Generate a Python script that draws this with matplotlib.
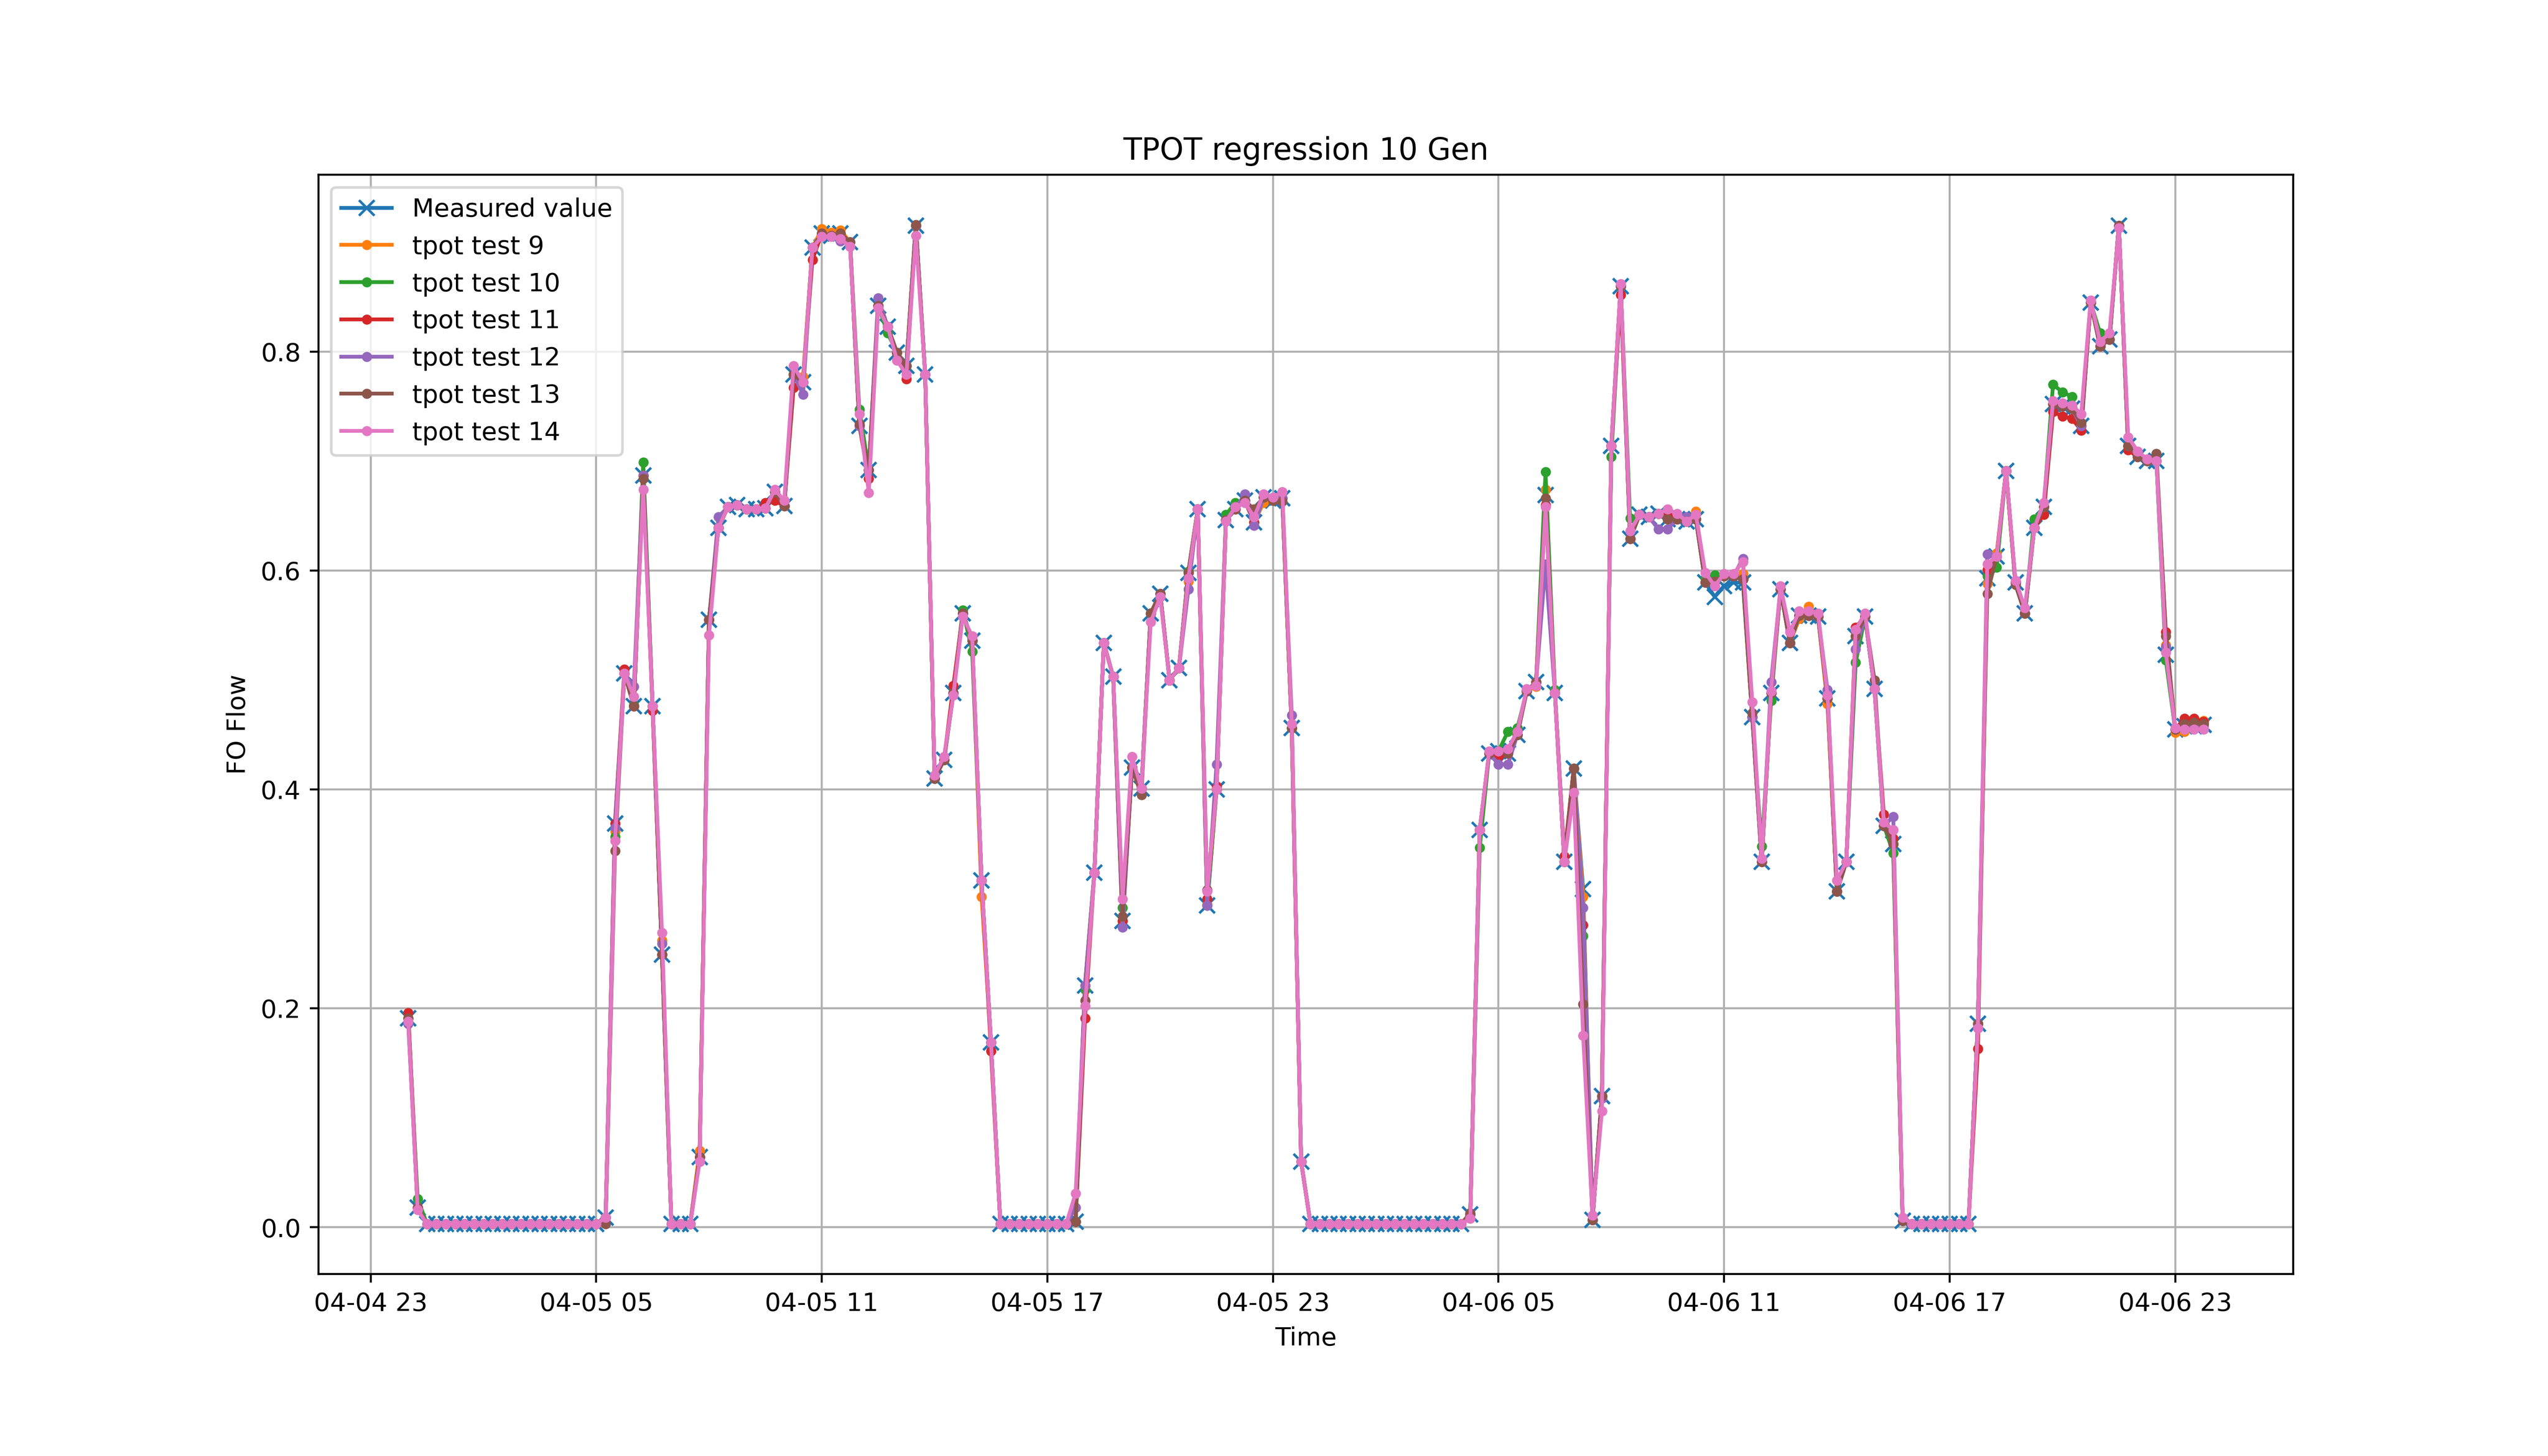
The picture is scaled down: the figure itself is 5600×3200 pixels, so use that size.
import matplotlib
matplotlib.use("Agg")
import matplotlib.pyplot as plt
import matplotlib.dates as mdates
import pandas as pd

# 15-minute samples from 04-05 00:00 to 04-06 23:45
times = pd.date_range("2019-04-05 00:00", periods=192, freq="15min")

measured = [
    0.191, 0.018, 0.003, 0.003, 0.003, 0.003, 0.003, 0.003, 0.003, 0.003, 0.003, 0.003,
    0.003, 0.003, 0.003, 0.003, 0.003, 0.003, 0.003, 0.003, 0.003, 0.009, 0.369, 0.506,
    0.476, 0.687, 0.476, 0.249, 0.003, 0.003, 0.003, 0.064, 0.555, 0.639, 0.658, 0.660,
    0.656, 0.656, 0.657, 0.672, 0.659, 0.779, 0.772, 0.895, 0.908, 0.906, 0.908, 0.900,
    0.732, 0.692, 0.842, 0.823, 0.799, 0.787, 0.915, 0.779, 0.410, 0.427, 0.488, 0.561,
    0.536, 0.317, 0.169, 0.003, 0.003, 0.003, 0.003, 0.003, 0.003, 0.003, 0.003, 0.005,
    0.221, 0.324, 0.534, 0.503, 0.280, 0.420, 0.401, 0.561, 0.579, 0.500, 0.511, 0.598,
    0.656, 0.294, 0.400, 0.646, 0.656, 0.664, 0.644, 0.667, 0.664, 0.666, 0.456, 0.060,
    0.003, 0.003, 0.003, 0.003, 0.003, 0.003, 0.003, 0.003, 0.003, 0.003, 0.003, 0.003,
    0.003, 0.003, 0.003, 0.003, 0.003, 0.012, 0.363, 0.433, 0.435, 0.433, 0.450, 0.490,
    0.498, 0.669, 0.488, 0.334, 0.419, 0.309, 0.007, 0.120, 0.714, 0.860, 0.629, 0.651,
    0.649, 0.652, 0.647, 0.647, 0.645, 0.647, 0.589, 0.576, 0.586, 0.589, 0.589, 0.466,
    0.334, 0.488, 0.583, 0.534, 0.559, 0.559, 0.558, 0.483, 0.307, 0.334, 0.540, 0.558,
    0.492, 0.367, 0.350, 0.006, 0.003, 0.003, 0.003, 0.003, 0.003, 0.003, 0.003, 0.186,
    0.593, 0.613, 0.691, 0.589, 0.561, 0.639, 0.658, 0.752, 0.750, 0.748, 0.732, 0.845,
    0.805, 0.811, 0.915, 0.714, 0.704, 0.700, 0.700, 0.523, 0.455, 0.458, 0.458, 0.459,
]

tpot9 = [
    0.191, 0.018, 0.003, 0.003, 0.003, 0.003, 0.003, 0.003, 0.003, 0.003, 0.003, 0.003,
    0.003, 0.003, 0.003, 0.003, 0.003, 0.003, 0.003, 0.003, 0.003, 0.009, 0.362, 0.506,
    0.476, 0.687, 0.476, 0.262, 0.003, 0.003, 0.003, 0.070, 0.555, 0.639, 0.658, 0.660,
    0.656, 0.656, 0.657, 0.672, 0.659, 0.779, 0.777, 0.895, 0.912, 0.909, 0.911, 0.900,
    0.732, 0.692, 0.842, 0.823, 0.799, 0.787, 0.915, 0.779, 0.410, 0.427, 0.488, 0.561,
    0.536, 0.302, 0.169, 0.003, 0.003, 0.003, 0.003, 0.003, 0.003, 0.003, 0.003, 0.005,
    0.221, 0.324, 0.534, 0.503, 0.280, 0.420, 0.401, 0.561, 0.579, 0.500, 0.511, 0.590,
    0.656, 0.295, 0.400, 0.646, 0.656, 0.664, 0.644, 0.662, 0.664, 0.666, 0.456, 0.060,
    0.003, 0.003, 0.003, 0.003, 0.003, 0.003, 0.003, 0.003, 0.003, 0.003, 0.003, 0.003,
    0.003, 0.003, 0.003, 0.003, 0.003, 0.012, 0.363, 0.433, 0.435, 0.433, 0.450, 0.490,
    0.494, 0.674, 0.488, 0.334, 0.419, 0.302, 0.007, 0.120, 0.714, 0.860, 0.629, 0.651,
    0.649, 0.652, 0.647, 0.647, 0.645, 0.654, 0.589, 0.590, 0.595, 0.595, 0.597, 0.466,
    0.334, 0.488, 0.583, 0.534, 0.556, 0.567, 0.558, 0.478, 0.307, 0.334, 0.540, 0.558,
    0.492, 0.367, 0.350, 0.006, 0.003, 0.003, 0.003, 0.003, 0.003, 0.003, 0.003, 0.186,
    0.588, 0.616, 0.691, 0.589, 0.561, 0.639, 0.658, 0.752, 0.750, 0.748, 0.732, 0.845,
    0.805, 0.811, 0.915, 0.714, 0.704, 0.700, 0.700, 0.532, 0.452, 0.453, 0.462, 0.463,
]

tpot10 = [
    0.191, 0.026, 0.003, 0.003, 0.003, 0.003, 0.003, 0.003, 0.003, 0.003, 0.003, 0.003,
    0.003, 0.003, 0.003, 0.003, 0.003, 0.003, 0.003, 0.003, 0.003, 0.009, 0.357, 0.506,
    0.477, 0.699, 0.476, 0.249, 0.003, 0.003, 0.003, 0.064, 0.555, 0.639, 0.658, 0.660,
    0.656, 0.656, 0.657, 0.672, 0.659, 0.779, 0.772, 0.895, 0.908, 0.906, 0.908, 0.900,
    0.747, 0.692, 0.842, 0.817, 0.799, 0.787, 0.915, 0.779, 0.410, 0.427, 0.488, 0.564,
    0.526, 0.317, 0.169, 0.003, 0.003, 0.003, 0.003, 0.003, 0.003, 0.003, 0.003, 0.005,
    0.217, 0.324, 0.534, 0.503, 0.292, 0.420, 0.401, 0.561, 0.579, 0.500, 0.511, 0.599,
    0.656, 0.294, 0.400, 0.651, 0.662, 0.664, 0.644, 0.667, 0.664, 0.666, 0.456, 0.060,
    0.003, 0.003, 0.003, 0.003, 0.003, 0.003, 0.003, 0.003, 0.003, 0.003, 0.003, 0.003,
    0.003, 0.003, 0.003, 0.003, 0.003, 0.012, 0.347, 0.433, 0.435, 0.453, 0.456, 0.490,
    0.498, 0.690, 0.491, 0.334, 0.419, 0.266, 0.007, 0.120, 0.704, 0.860, 0.648, 0.651,
    0.649, 0.652, 0.647, 0.647, 0.645, 0.647, 0.593, 0.596, 0.595, 0.595, 0.592, 0.466,
    0.348, 0.481, 0.583, 0.534, 0.559, 0.559, 0.558, 0.483, 0.307, 0.334, 0.516, 0.558,
    0.492, 0.367, 0.342, 0.006, 0.003, 0.003, 0.003, 0.003, 0.003, 0.003, 0.003, 0.186,
    0.595, 0.603, 0.691, 0.589, 0.561, 0.647, 0.658, 0.770, 0.763, 0.759, 0.732, 0.845,
    0.817, 0.811, 0.915, 0.714, 0.704, 0.700, 0.700, 0.518, 0.455, 0.460, 0.460, 0.460,
]

tpot11 = [
    0.196, 0.018, 0.003, 0.003, 0.003, 0.003, 0.003, 0.003, 0.003, 0.003, 0.003, 0.003,
    0.003, 0.003, 0.003, 0.003, 0.003, 0.003, 0.003, 0.003, 0.003, 0.009, 0.369, 0.510,
    0.476, 0.687, 0.472, 0.249, 0.003, 0.003, 0.003, 0.064, 0.555, 0.639, 0.658, 0.660,
    0.656, 0.656, 0.662, 0.664, 0.659, 0.767, 0.772, 0.884, 0.908, 0.906, 0.908, 0.900,
    0.732, 0.684, 0.842, 0.823, 0.799, 0.775, 0.915, 0.779, 0.410, 0.427, 0.495, 0.561,
    0.536, 0.317, 0.161, 0.003, 0.003, 0.003, 0.003, 0.003, 0.003, 0.003, 0.003, 0.005,
    0.191, 0.324, 0.534, 0.503, 0.280, 0.420, 0.401, 0.561, 0.579, 0.500, 0.511, 0.598,
    0.656, 0.300, 0.403, 0.646, 0.656, 0.664, 0.644, 0.667, 0.664, 0.666, 0.456, 0.060,
    0.003, 0.003, 0.003, 0.003, 0.003, 0.003, 0.003, 0.003, 0.003, 0.003, 0.003, 0.003,
    0.003, 0.003, 0.003, 0.003, 0.003, 0.012, 0.363, 0.433, 0.430, 0.433, 0.450, 0.490,
    0.498, 0.660, 0.488, 0.339, 0.419, 0.276, 0.007, 0.120, 0.714, 0.852, 0.629, 0.651,
    0.649, 0.652, 0.651, 0.647, 0.645, 0.647, 0.589, 0.590, 0.595, 0.595, 0.592, 0.466,
    0.334, 0.488, 0.583, 0.534, 0.559, 0.559, 0.558, 0.483, 0.307, 0.334, 0.548, 0.558,
    0.492, 0.377, 0.355, 0.006, 0.003, 0.003, 0.003, 0.003, 0.003, 0.003, 0.003, 0.163,
    0.601, 0.613, 0.691, 0.589, 0.561, 0.639, 0.651, 0.745, 0.741, 0.739, 0.728, 0.845,
    0.805, 0.811, 0.915, 0.710, 0.704, 0.700, 0.700, 0.544, 0.455, 0.465, 0.465, 0.462,
]

tpot12 = [
    0.186, 0.018, 0.003, 0.003, 0.003, 0.003, 0.003, 0.003, 0.003, 0.003, 0.003, 0.003,
    0.003, 0.003, 0.003, 0.003, 0.003, 0.003, 0.003, 0.003, 0.003, 0.009, 0.365, 0.506,
    0.494, 0.687, 0.476, 0.259, 0.003, 0.003, 0.003, 0.064, 0.555, 0.649, 0.658, 0.660,
    0.656, 0.656, 0.657, 0.672, 0.659, 0.779, 0.761, 0.895, 0.908, 0.906, 0.901, 0.900,
    0.732, 0.692, 0.849, 0.823, 0.799, 0.787, 0.915, 0.779, 0.410, 0.427, 0.488, 0.561,
    0.536, 0.317, 0.169, 0.003, 0.003, 0.003, 0.003, 0.003, 0.003, 0.003, 0.003, 0.018,
    0.221, 0.324, 0.534, 0.503, 0.274, 0.420, 0.401, 0.561, 0.579, 0.500, 0.511, 0.583,
    0.656, 0.294, 0.423, 0.646, 0.656, 0.670, 0.641, 0.667, 0.664, 0.666, 0.468, 0.060,
    0.003, 0.003, 0.003, 0.003, 0.003, 0.003, 0.003, 0.003, 0.003, 0.003, 0.003, 0.003,
    0.003, 0.003, 0.003, 0.003, 0.003, 0.012, 0.363, 0.433, 0.423, 0.423, 0.450, 0.490,
    0.498, 0.606, 0.488, 0.334, 0.419, 0.292, 0.007, 0.118, 0.714, 0.860, 0.629, 0.651,
    0.649, 0.638, 0.638, 0.647, 0.649, 0.647, 0.589, 0.590, 0.595, 0.595, 0.611, 0.466,
    0.334, 0.498, 0.583, 0.534, 0.559, 0.559, 0.558, 0.491, 0.307, 0.334, 0.528, 0.558,
    0.492, 0.367, 0.375, 0.006, 0.003, 0.003, 0.003, 0.003, 0.003, 0.003, 0.003, 0.186,
    0.615, 0.613, 0.691, 0.589, 0.561, 0.639, 0.658, 0.752, 0.750, 0.748, 0.732, 0.845,
    0.805, 0.811, 0.915, 0.714, 0.704, 0.700, 0.700, 0.530, 0.455, 0.458, 0.458, 0.458,
]

tpot13 = [
    0.191, 0.018, 0.003, 0.003, 0.003, 0.003, 0.003, 0.003, 0.003, 0.003, 0.003, 0.003,
    0.003, 0.003, 0.003, 0.003, 0.003, 0.003, 0.003, 0.003, 0.003, 0.003, 0.344, 0.506,
    0.476, 0.684, 0.476, 0.249, 0.003, 0.003, 0.003, 0.064, 0.555, 0.639, 0.658, 0.660,
    0.656, 0.656, 0.657, 0.672, 0.659, 0.779, 0.772, 0.895, 0.908, 0.906, 0.908, 0.900,
    0.734, 0.692, 0.842, 0.823, 0.799, 0.787, 0.916, 0.779, 0.410, 0.427, 0.488, 0.561,
    0.536, 0.317, 0.169, 0.003, 0.003, 0.003, 0.003, 0.003, 0.003, 0.003, 0.003, 0.005,
    0.207, 0.324, 0.534, 0.503, 0.284, 0.420, 0.395, 0.561, 0.579, 0.500, 0.511, 0.598,
    0.656, 0.308, 0.400, 0.646, 0.656, 0.664, 0.656, 0.667, 0.664, 0.663, 0.456, 0.060,
    0.003, 0.003, 0.003, 0.003, 0.003, 0.003, 0.003, 0.003, 0.003, 0.003, 0.003, 0.003,
    0.003, 0.003, 0.003, 0.003, 0.003, 0.013, 0.363, 0.433, 0.435, 0.433, 0.450, 0.490,
    0.498, 0.666, 0.488, 0.334, 0.419, 0.204, 0.007, 0.120, 0.714, 0.860, 0.629, 0.651,
    0.649, 0.652, 0.647, 0.647, 0.645, 0.647, 0.589, 0.590, 0.595, 0.595, 0.592, 0.470,
    0.334, 0.488, 0.583, 0.534, 0.559, 0.559, 0.558, 0.483, 0.307, 0.334, 0.540, 0.558,
    0.500, 0.367, 0.350, 0.006, 0.003, 0.003, 0.003, 0.003, 0.003, 0.003, 0.003, 0.186,
    0.579, 0.613, 0.691, 0.587, 0.561, 0.639, 0.658, 0.752, 0.750, 0.748, 0.735, 0.845,
    0.805, 0.811, 0.915, 0.714, 0.704, 0.700, 0.707, 0.540, 0.455, 0.460, 0.461, 0.460,
]

tpot14 = [
    0.188, 0.016, 0.003, 0.003, 0.003, 0.003, 0.003, 0.003, 0.003, 0.003, 0.003, 0.003,
    0.003, 0.003, 0.003, 0.003, 0.003, 0.003, 0.003, 0.003, 0.003, 0.009, 0.353, 0.506,
    0.485, 0.674, 0.476, 0.269, 0.003, 0.003, 0.003, 0.060, 0.541, 0.639, 0.658, 0.660,
    0.656, 0.656, 0.657, 0.674, 0.664, 0.787, 0.772, 0.895, 0.905, 0.905, 0.903, 0.896,
    0.743, 0.671, 0.840, 0.823, 0.792, 0.779, 0.906, 0.779, 0.413, 0.430, 0.486, 0.558,
    0.540, 0.317, 0.169, 0.003, 0.003, 0.003, 0.003, 0.003, 0.003, 0.003, 0.003, 0.031,
    0.202, 0.324, 0.534, 0.503, 0.300, 0.430, 0.401, 0.553, 0.576, 0.500, 0.511, 0.593,
    0.656, 0.307, 0.400, 0.645, 0.658, 0.662, 0.649, 0.670, 0.667, 0.672, 0.460, 0.060,
    0.003, 0.003, 0.003, 0.003, 0.003, 0.003, 0.003, 0.003, 0.003, 0.003, 0.003, 0.003,
    0.003, 0.003, 0.003, 0.003, 0.003, 0.008, 0.363, 0.435, 0.435, 0.437, 0.453, 0.492,
    0.495, 0.658, 0.488, 0.334, 0.397, 0.175, 0.011, 0.106, 0.714, 0.862, 0.636, 0.651,
    0.649, 0.652, 0.656, 0.652, 0.645, 0.651, 0.598, 0.586, 0.597, 0.597, 0.608, 0.480,
    0.337, 0.490, 0.586, 0.544, 0.563, 0.563, 0.561, 0.486, 0.317, 0.334, 0.546, 0.561,
    0.492, 0.370, 0.363, 0.009, 0.003, 0.003, 0.003, 0.003, 0.003, 0.003, 0.003, 0.182,
    0.606, 0.613, 0.691, 0.591, 0.566, 0.639, 0.662, 0.755, 0.753, 0.751, 0.743, 0.847,
    0.809, 0.817, 0.913, 0.722, 0.709, 0.702, 0.700, 0.525, 0.456, 0.455, 0.455, 0.455,
]

series_labels = ["tpot test 9", "tpot test 10", "tpot test 11",
                 "tpot test 12", "tpot test 13", "tpot test 14"]
series_values = [tpot9, tpot10, tpot11, tpot12, tpot13, tpot14]

fig = plt.figure(figsize=(14, 8), dpi=400)
ax = fig.add_subplot(111)
fig.subplots_adjust(left=0.125, right=0.9, top=0.88, bottom=0.125)

ax.plot(times, measured, marker="x", label="Measured value")
for lab, vals in zip(series_labels, series_values):
    ax.plot(times, vals, marker=".", label=lab)

ax.xaxis.set_major_locator(mdates.HourLocator(byhour=[5, 11, 17, 23]))
ax.xaxis.set_major_formatter(mdates.DateFormatter("%m-%d %H"))
ax.set_yticks([0.0, 0.2, 0.4, 0.6, 0.8])

ax.grid(True)
ax.set_title("TPOT regression 10 Gen")
ax.set_xlabel("Time")
ax.set_ylabel("FO Flow")
ax.legend(loc="upper left")

fig.savefig("out.png", dpi=400)
